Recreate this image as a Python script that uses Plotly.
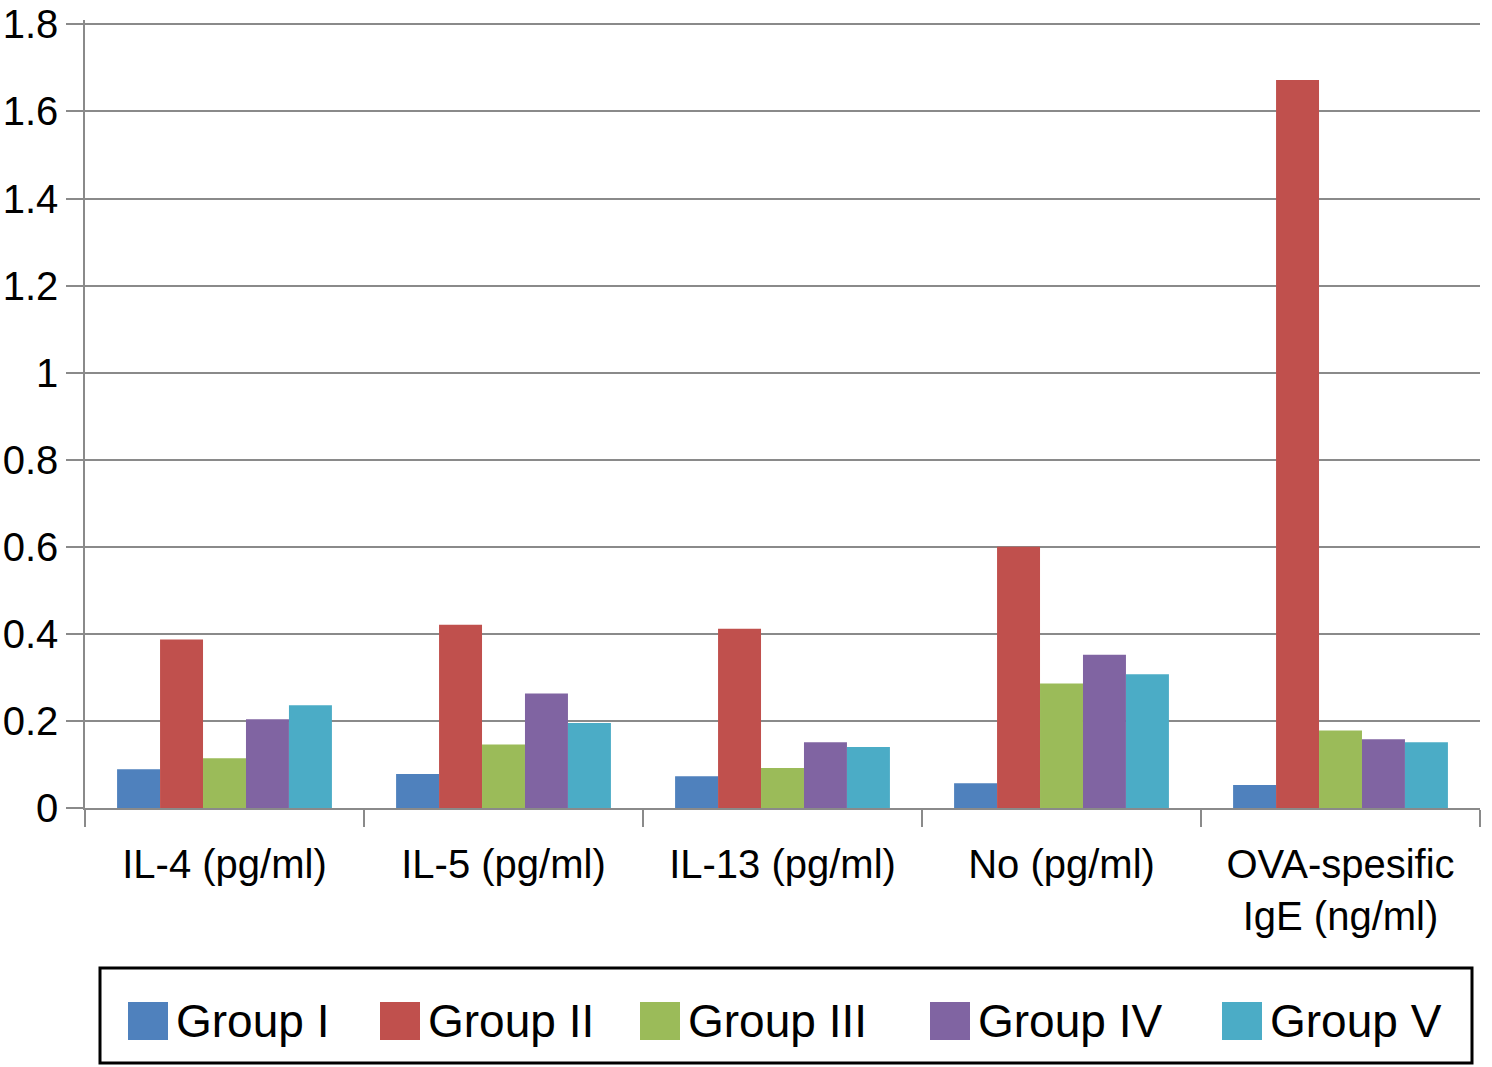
import plotly.graph_objects as go

categories = ["IL-4 (pg/ml)", "IL-5 (pg/ml)", "IL-13 (pg/ml)", "No (pg/ml)", "OVA-spesific<br>IgE (ng/ml)"]
group_names = ["Group I", "Group II", "Group III", "Group IV", "Group V"]
group1 = [0.089, 0.078, 0.073, 0.057, 0.053]
group2 = [0.387, 0.421, 0.412, 0.600, 1.672]
group3 = [0.114, 0.146, 0.092, 0.286, 0.178]
group4 = [0.204, 0.263, 0.151, 0.352, 0.158]
group5 = [0.236, 0.195, 0.140, 0.307, 0.151]
series = [group1, group2, group3, group4, group5]
y_tick_values = [0, 0.2, 0.4, 0.6, 0.8, 1.0, 1.2, 1.4, 1.6, 1.8]
y_tick_labels = ["0", "0.2", "0.4", "0.6", "0.8", "1", "1.2", "1.4", "1.6", "1.8"]
colors = ["#4F81BD", "#C0504D", "#9BBB59", "#8064A2", "#4BACC6"]

W, H = 1492, 1067
ML, MR, MT, MB = 85, 12, 20, 259
PW, PH = W - ML - MR, H - MT - MB


def px2x(px):
    return (px - ML) / PW


def px2y(py):
    return (H - MB - py) / PH


fig = go.Figure()
for name, vals, col in zip(group_names, series, colors):
    fig.add_trace(go.Bar(x=categories, y=vals, name=name, marker_color=col,
                         marker_line_width=0, showlegend=False))

FONT = "Liberation Sans, Arial, sans-serif"
GRID = "#8a8a8a"

fig.update_layout(
    width=W, height=H,
    margin=dict(l=ML, r=MR, t=MT, b=MB, pad=0),
    paper_bgcolor="white", plot_bgcolor="white",
    barmode="group", bargap=0.23, bargroupgap=0,
    font=dict(family=FONT, size=40, color="black"),
    xaxis=dict(showline=True, linecolor=GRID, linewidth=1.5, ticks="outside",
               tickson="boundaries", ticklen=17, tickcolor=GRID, tickwidth=1.5,
               showgrid=False, tickfont=dict(size=40), automargin=False,
               ticklabelstandoff=20, ticklabeloverflow="allow"),
    yaxis=dict(range=[0, 1.81], tickvals=y_tick_values, ticktext=y_tick_labels,
               showline=True, linecolor=GRID, linewidth=1.5,
               ticks="outside", ticklen=17, tickcolor=GRID, tickwidth=1.5,
               showgrid=True, gridcolor=GRID, gridwidth=1.5, zeroline=False,
               tickfont=dict(size=40), automargin=False, ticklabeloverflow="allow"),
)

# Legend (drawn manually to match large swatches)
legend_box = dict(x0=100, x1=1472, y0=968, y1=1063)
swatch_x = [128, 380, 640, 930, 1222]
fig.add_shape(type="rect", xref="paper", yref="paper",
              x0=px2x(legend_box["x0"]), x1=px2x(legend_box["x1"]),
              y0=px2y(legend_box["y1"]), y1=px2y(legend_box["y0"]),
              line=dict(color="black", width=3), fillcolor="rgba(0,0,0,0)")
for name, col, sx in zip(group_names, colors, swatch_x):
    fig.add_shape(type="rect", xref="paper", yref="paper",
                  x0=px2x(sx), x1=px2x(sx + 40), y0=px2y(1040), y1=px2y(1002),
                  line=dict(width=0), fillcolor=col)
    fig.add_annotation(xref="paper", yref="paper", x=px2x(sx + 46), y=px2y(1021),
                       xanchor="left", yanchor="middle", text=name, showarrow=False,
                       font=dict(size=46, family=FONT, color="black"))

fig.write_html("out.html", config={"displayModeBar": False},
               post_script="document.body.style.margin='0';")
